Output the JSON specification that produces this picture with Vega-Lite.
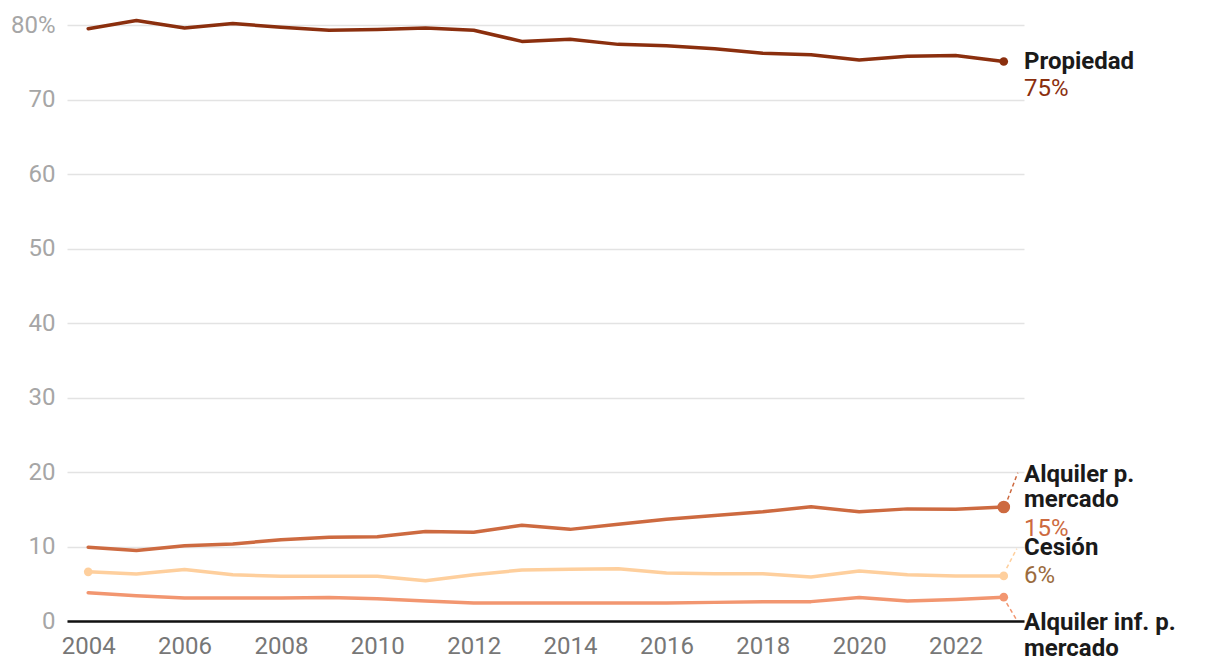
{
  "$schema": "https://vega.github.io/schema/vega-lite/v6.json",
  "autosize": "none",
  "width": 957,
  "height": 596,
  "padding": {"left": 67, "top": 25, "right": 196, "bottom": 51},
  "background": "white",
  "config": {"view": {"stroke": null}, "font": "Roboto"},
  "datasets": {
    "series": [
      {"series": "Propiedad", "year": 2004, "value": 79.5},
      {"series": "Propiedad", "year": 2005, "value": 80.6},
      {"series": "Propiedad", "year": 2006, "value": 79.6},
      {"series": "Propiedad", "year": 2007, "value": 80.2},
      {"series": "Propiedad", "year": 2008, "value": 79.7},
      {"series": "Propiedad", "year": 2009, "value": 79.3},
      {"series": "Propiedad", "year": 2010, "value": 79.4},
      {"series": "Propiedad", "year": 2011, "value": 79.6},
      {"series": "Propiedad", "year": 2012, "value": 79.3},
      {"series": "Propiedad", "year": 2013, "value": 77.8},
      {"series": "Propiedad", "year": 2014, "value": 78.1},
      {"series": "Propiedad", "year": 2015, "value": 77.4},
      {"series": "Propiedad", "year": 2016, "value": 77.2},
      {"series": "Propiedad", "year": 2017, "value": 76.8},
      {"series": "Propiedad", "year": 2018, "value": 76.2},
      {"series": "Propiedad", "year": 2019, "value": 76.0},
      {"series": "Propiedad", "year": 2020, "value": 75.3},
      {"series": "Propiedad", "year": 2021, "value": 75.8},
      {"series": "Propiedad", "year": 2022, "value": 75.9},
      {"series": "Propiedad", "year": 2023, "value": 75.1},
      {"series": "Alquiler p. mercado", "year": 2004, "value": 9.9},
      {"series": "Alquiler p. mercado", "year": 2005, "value": 9.45},
      {"series": "Alquiler p. mercado", "year": 2006, "value": 10.1},
      {"series": "Alquiler p. mercado", "year": 2007, "value": 10.35},
      {"series": "Alquiler p. mercado", "year": 2008, "value": 10.9},
      {"series": "Alquiler p. mercado", "year": 2009, "value": 11.25},
      {"series": "Alquiler p. mercado", "year": 2010, "value": 11.3},
      {"series": "Alquiler p. mercado", "year": 2011, "value": 12.0},
      {"series": "Alquiler p. mercado", "year": 2012, "value": 11.9},
      {"series": "Alquiler p. mercado", "year": 2013, "value": 12.85},
      {"series": "Alquiler p. mercado", "year": 2014, "value": 12.3},
      {"series": "Alquiler p. mercado", "year": 2015, "value": 13.0},
      {"series": "Alquiler p. mercado", "year": 2016, "value": 13.65},
      {"series": "Alquiler p. mercado", "year": 2017, "value": 14.15},
      {"series": "Alquiler p. mercado", "year": 2018, "value": 14.65},
      {"series": "Alquiler p. mercado", "year": 2019, "value": 15.35},
      {"series": "Alquiler p. mercado", "year": 2020, "value": 14.65},
      {"series": "Alquiler p. mercado", "year": 2021, "value": 15.05},
      {"series": "Alquiler p. mercado", "year": 2022, "value": 15.0},
      {"series": "Alquiler p. mercado", "year": 2023, "value": 15.3},
      {"series": "Cesión", "year": 2004, "value": 6.6},
      {"series": "Cesión", "year": 2005, "value": 6.3},
      {"series": "Cesión", "year": 2006, "value": 6.9},
      {"series": "Cesión", "year": 2007, "value": 6.2},
      {"series": "Cesión", "year": 2008, "value": 6.0},
      {"series": "Cesión", "year": 2009, "value": 6.0},
      {"series": "Cesión", "year": 2010, "value": 6.0},
      {"series": "Cesión", "year": 2011, "value": 5.4},
      {"series": "Cesión", "year": 2012, "value": 6.2},
      {"series": "Cesión", "year": 2013, "value": 6.85},
      {"series": "Cesión", "year": 2014, "value": 6.95},
      {"series": "Cesión", "year": 2015, "value": 7.0},
      {"series": "Cesión", "year": 2016, "value": 6.45},
      {"series": "Cesión", "year": 2017, "value": 6.35},
      {"series": "Cesión", "year": 2018, "value": 6.35},
      {"series": "Cesión", "year": 2019, "value": 5.9},
      {"series": "Cesión", "year": 2020, "value": 6.7},
      {"series": "Cesión", "year": 2021, "value": 6.2},
      {"series": "Cesión", "year": 2022, "value": 6.05},
      {"series": "Cesión", "year": 2023, "value": 6.05},
      {"series": "Alquiler inf. p. mercado", "year": 2004, "value": 3.8},
      {"series": "Alquiler inf. p. mercado", "year": 2005, "value": 3.4},
      {"series": "Alquiler inf. p. mercado", "year": 2006, "value": 3.1},
      {"series": "Alquiler inf. p. mercado", "year": 2007, "value": 3.1},
      {"series": "Alquiler inf. p. mercado", "year": 2008, "value": 3.1},
      {"series": "Alquiler inf. p. mercado", "year": 2009, "value": 3.15},
      {"series": "Alquiler inf. p. mercado", "year": 2010, "value": 3.0},
      {"series": "Alquiler inf. p. mercado", "year": 2011, "value": 2.7},
      {"series": "Alquiler inf. p. mercado", "year": 2012, "value": 2.4},
      {"series": "Alquiler inf. p. mercado", "year": 2013, "value": 2.4},
      {"series": "Alquiler inf. p. mercado", "year": 2014, "value": 2.4},
      {"series": "Alquiler inf. p. mercado", "year": 2015, "value": 2.4},
      {"series": "Alquiler inf. p. mercado", "year": 2016, "value": 2.4},
      {"series": "Alquiler inf. p. mercado", "year": 2017, "value": 2.5},
      {"series": "Alquiler inf. p. mercado", "year": 2018, "value": 2.6},
      {"series": "Alquiler inf. p. mercado", "year": 2019, "value": 2.6},
      {"series": "Alquiler inf. p. mercado", "year": 2020, "value": 3.15},
      {"series": "Alquiler inf. p. mercado", "year": 2021, "value": 2.7},
      {"series": "Alquiler inf. p. mercado", "year": 2022, "value": 2.9},
      {"series": "Alquiler inf. p. mercado", "year": 2023, "value": 3.2}
    ],
    "leaders": [
      {"series": "Alquiler p. mercado", "year": 2023.08, "value": 16.3},
      {"series": "Alquiler p. mercado", "year": 2023.29, "value": 19.9},
      {"series": "Cesión", "year": 2023.06, "value": 7.1},
      {"series": "Cesión", "year": 2023.27, "value": 9.7},
      {"series": "Alquiler inf. p. mercado", "year": 2023.06, "value": 2.4},
      {"series": "Alquiler inf. p. mercado", "year": 2023.29, "value": -0.1}
    ],
    "names": [
      {"series": "Propiedad", "text": "Propiedad", "year": 2023.42, "value": 74.06},
      {"series": "Alquiler p. mercado", "text": "Alquiler p.", "year": 2023.42, "value": 18.72},
      {"series": "Alquiler p. mercado", "text": "mercado", "year": 2023.42, "value": 15.28},
      {"series": "Cesión", "text": "Cesión", "year": 2023.42, "value": 8.87},
      {"series": "Alquiler inf. p. mercado", "text": "Alquiler inf. p.", "year": 2023.42, "value": -1.21},
      {"series": "Alquiler inf. p. mercado", "text": "mercado", "year": 2023.42, "value": -4.7}
    ],
    "values": [
      {"series": "Propiedad", "text": "75%", "year": 2023.42, "value": 70.47},
      {"series": "Alquiler p. mercado", "text": "15%", "year": 2023.42, "value": 11.42},
      {"series": "Cesión", "text": "6%", "year": 2023.42, "value": 5.15}
    ]
  },
  "layer": [
    {
      "data": {"name": "series"},
      "mark": {"type": "line", "strokeWidth": 3.5, "strokeJoin": "round", "strokeCap": "round"},
      "encoding": {
        "x": {"field": "year", "type": "quantitative",
          "scale": {"domain": [2003.56, 2023.42], "nice": false, "zero": false},
          "axis": {"values": [2004, 2006, 2008, 2010, 2012, 2014, 2016, 2018, 2020, 2022], "format": "d", "title": null,
            "labelFontSize": 24, "labelColor": "#777777", "labelFont": "Roboto", "labelPadding": 13,
            "ticks": false, "grid": false, "domainColor": "#111111", "domainWidth": 2.5, "zindex": 1}},
        "y": {"field": "value", "type": "quantitative",
          "scale": {"domain": [0, 80], "nice": false},
          "axis": {"values": [0, 10, 20, 30, 40, 50, 60, 70, 80], "title": null,
            "labelExpr": "datum.value == 80 ? '80%' : datum.label",
            "labelFontSize": 24, "labelColor": "#a6a6a6", "labelFont": "Roboto", "labelPadding": 12,
            "ticks": false, "domain": false, "gridColor": "#e3e3e3", "gridWidth": 1.5}},
        "color": {"field": "series", "type": "nominal", "legend": null,
          "scale": {"domain": ["Propiedad", "Alquiler p. mercado", "Cesión", "Alquiler inf. p. mercado"],
            "range": ["#8b2f0e", "#cd6a40", "#fecf9d", "#f29670"]}},
        "detail": {"field": "series"}
      }
    },
    {
      "data": {"name": "leaders"},
      "mark": {"type": "line", "strokeWidth": 1.5, "strokeDash": [4, 3]},
      "encoding": {
        "x": {"field": "year", "type": "quantitative"},
        "y": {"field": "value", "type": "quantitative"},
        "color": {"field": "series", "type": "nominal", "legend": null},
        "detail": {"field": "series"}
      }
    },
    {
      "data": {"name": "series"},
      "transform": [{"filter": "datum.year == 2023 || (datum.series == 'Cesión' && datum.year == 2004)"}],
      "mark": {"type": "circle", "opacity": 1},
      "encoding": {
        "x": {"field": "year", "type": "quantitative"},
        "y": {"field": "value", "type": "quantitative"},
        "color": {"field": "series", "type": "nominal", "legend": null},
        "size": {"condition": {"test": "datum.series == 'Alquiler p. mercado'", "value": 160}, "value": 75}
      }
    },
    {
      "data": {"name": "names"},
      "mark": {"type": "text", "align": "left", "baseline": "alphabetic", "fontSize": 24, "fontWeight": "bold", "font": "Roboto", "color": "#1a1a1a"},
      "encoding": {
        "x": {"field": "year", "type": "quantitative"},
        "y": {"field": "value", "type": "quantitative"},
        "text": {"field": "text"}
      }
    },
    {
      "data": {"name": "values"},
      "mark": {"type": "text", "align": "left", "baseline": "alphabetic", "fontSize": 24, "font": "Roboto"},
      "encoding": {
        "x": {"field": "year", "type": "quantitative"},
        "y": {"field": "value", "type": "quantitative"},
        "text": {"field": "text"},
        "color": {"condition": {"test": "datum.series == 'Cesión'", "value": "#9b6b3d"}, "field": "series", "type": "nominal", "legend": null}
      }
    }
  ]
}
